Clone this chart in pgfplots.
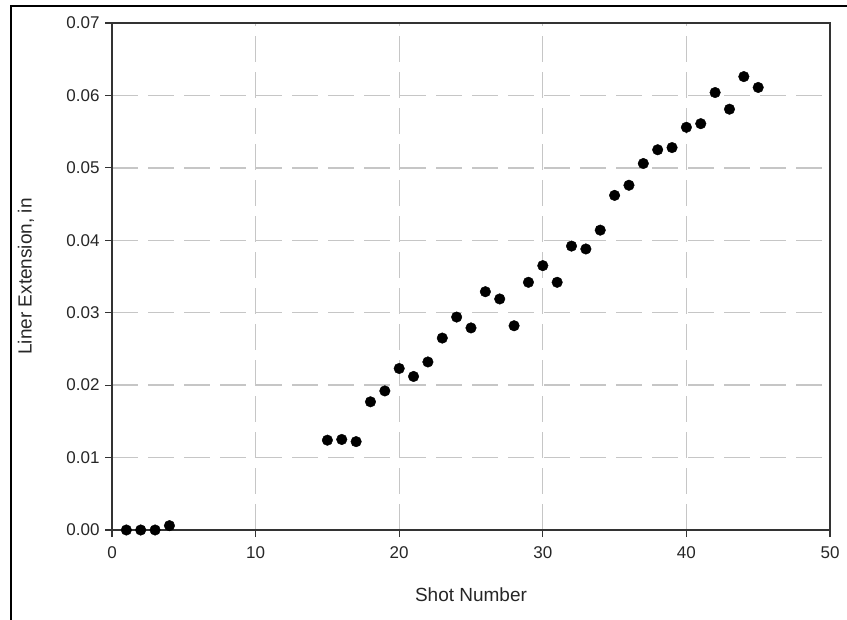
\documentclass[border=0pt]{standalone}
\usepackage{pgfplots}
\pgfplotsset{compat=1.18}
\usepackage{fontspec}
\setmainfont{Liberation Sans}
\begin{document}
\begin{tikzpicture}
\path[use as bounding box] (0,0) rectangle (847bp,620bp);
\draw[line width=1.8bp, black] (11bp,0) -- (11bp,614bp) -- (847bp,614bp);
\begin{axis}[
  at={(112bp,90bp)}, anchor=south west,
  scale only axis, width=718bp, height=507bp,
  xmin=0, xmax=50, ymin=0, ymax=0.07,
  xtick={0,10,...,50},
  ytick={0,0.01,...,0.07},
  scaled y ticks=false,
  yticklabel style={/pgf/number format/fixed, /pgf/number format/fixed zerofill, /pgf/number format/precision=2},
  /pgf/number format/assume math mode=true,
  tick align=outside, tick pos=left,
  major tick length=7bp,
  every tick/.style={black!80, line width=1.2bp},
  axis line style={black!80, line width=1.4bp},
  grid=major,
  major grid style={gray!45, line width=1.3bp, dash pattern=on 26bp off 10bp},
  tick label style={font=\fontsize{17bp}{19bp}\selectfont, text=black!85},
  label style={font=\fontsize{19bp}{22bp}\selectfont, text=black!85},
  xlabel={Shot Number},
  ylabel={Liner Extension, in},
  xlabel style={at={(axis description cs:0.5,-0.128)}, anchor=center},
  ylabel style={at={(axis description cs:-0.12,0.5)}, anchor=center},
  yticklabel style={xshift=-2bp},
  xticklabel style={yshift=-6bp},
]
\addplot[only marks, mark=*, mark size=5.3bp, mark options={fill=black, draw=black}] coordinates {
(1,0.0000) (2,0.0000) (3,0.0000) (4,0.0006)
(15,0.0124) (16,0.0125) (17,0.0122) (18,0.0177) (19,0.0192) (20,0.0223)
(21,0.0212) (22,0.0232) (23,0.0265) (24,0.0294) (25,0.0279) (26,0.0329)
(27,0.0319) (28,0.0282) (29,0.0342) (30,0.0365) (31,0.0342) (32,0.0392)
(33,0.0388) (34,0.0414) (35,0.0462) (36,0.0476) (37,0.0506) (38,0.0525)
(39,0.0528) (40,0.0556) (41,0.0561) (42,0.0604) (43,0.0581) (44,0.0626)
(45,0.0611)
};
\end{axis}
\end{tikzpicture}
\end{document}
